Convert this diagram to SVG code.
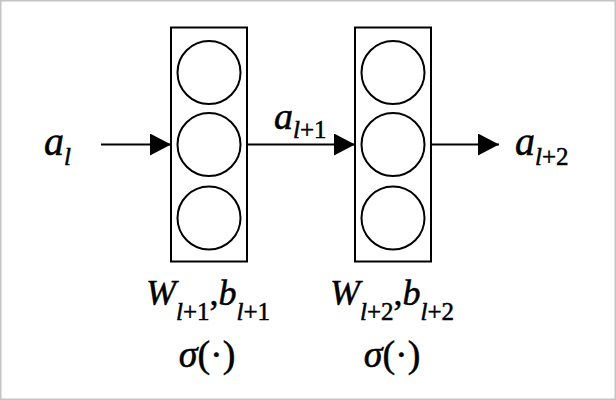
<svg xmlns="http://www.w3.org/2000/svg" width="616" height="400" viewBox="0 0 616 400">
  <style>
    .box { fill: none; stroke: #000; stroke-width: 2; }
    .neuron { fill: none; stroke: #000; stroke-width: 2; }
    .conn { stroke: #000; stroke-width: 2; fill: none; }
    .t { font-family: "Liberation Serif", "Times New Roman", serif; fill: #000; stroke: #000; stroke-width: 0.5; }
    .i { font-style: italic; }
    .sub { font-size: 25px; }
  </style>
  <defs>
    <marker id="arrow" markerUnits="userSpaceOnUse" markerWidth="21" markerHeight="22" refX="21" refY="11" orient="auto">
      <path d="M0,0 L21,11 L0,22 Z" fill="#000"/>
    </marker>
  </defs>
  <rect x="0" y="0" width="616" height="400" fill="#fff"/>
  <rect x="0.75" y="0.75" width="614.5" height="398.5" fill="none" stroke="#c4c4c4" stroke-width="1.5"/>

  <g id="connectors">
    <line class="conn" x1="101" y1="144.5" x2="171" y2="144.5" marker-end="url(#arrow)"/>
    <line class="conn" x1="247" y1="144.5" x2="355" y2="144.5" marker-end="url(#arrow)"/>
    <line class="conn" x1="431" y1="144.5" x2="499" y2="144.5" marker-end="url(#arrow)"/>
  </g>

  <g id="layer1">
    <rect class="box" x="171" y="27.5" width="76" height="234"/>
    <circle class="neuron" cx="209" cy="72.5" r="31.5"/>
    <circle class="neuron" cx="209" cy="144.5" r="31.5"/>
    <circle class="neuron" cx="209" cy="218" r="31.5"/>
  </g>

  <g id="layer2">
    <rect class="box" x="355" y="27.5" width="76" height="234"/>
    <circle class="neuron" cx="393" cy="72.5" r="31.5"/>
    <circle class="neuron" cx="393" cy="144.5" r="31.5"/>
    <circle class="neuron" cx="393" cy="218" r="31.5"/>
  </g>

  <g id="label-al">
    <text class="t" x="44" y="155" font-size="40"><tspan class="i">a</tspan><tspan class="sub i" dy="10">l</tspan></text>
  </g>
  <g id="label-al1">
    <text class="t" x="274" y="129" font-size="38"><tspan class="i">a</tspan><tspan class="sub" dy="9"><tspan class="i">l</tspan>+1</tspan></text>
  </g>
  <g id="label-al2">
    <text class="t" x="515" y="155" font-size="40"><tspan class="i">a</tspan><tspan class="sub" dy="10"><tspan class="i">l</tspan>+2</tspan></text>
  </g>

  <g id="params1">
    <text class="t" x="208" y="305" font-size="36" text-anchor="middle"><tspan class="i">W</tspan><tspan class="sub" dy="15"><tspan class="i">l</tspan>+1</tspan><tspan dy="-15">,</tspan><tspan class="i">b</tspan><tspan class="sub" dy="15"><tspan class="i">l</tspan>+1</tspan></text>
    <text class="t" x="207" y="367" font-size="38" text-anchor="middle"><tspan class="i">σ</tspan>(·)</text>
  </g>
  <g id="params2">
    <text class="t" x="392" y="305" font-size="36" text-anchor="middle"><tspan class="i">W</tspan><tspan class="sub" dy="15"><tspan class="i">l</tspan>+2</tspan><tspan dy="-15">,</tspan><tspan class="i">b</tspan><tspan class="sub" dy="15"><tspan class="i">l</tspan>+2</tspan></text>
    <text class="t" x="392" y="367" font-size="38" text-anchor="middle"><tspan class="i">σ</tspan>(·)</text>
  </g>
</svg>
